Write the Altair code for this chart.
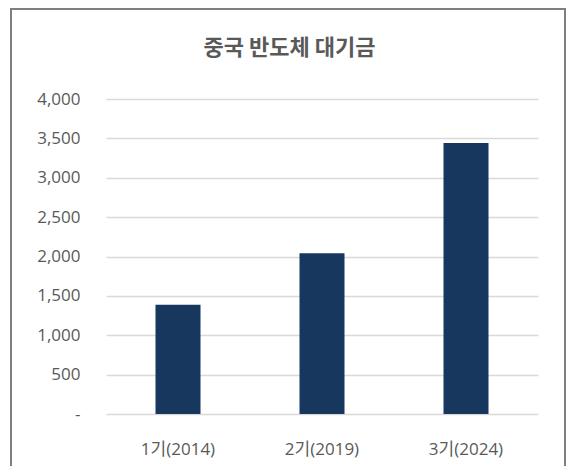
import altair as alt
import pandas as pd

categories = ["1기(2014)", "2기(2019)", "3기(2024)"]
values = [1387, 2042, 3440]
title_text = ["중국 반도체 대기금"]

df = pd.DataFrame({"phase": categories, "amount": values})
frame_df = pd.DataFrame({"k": [0]})
title_df = pd.DataFrame({"t": title_text})

bars = alt.Chart(df).mark_bar(size=45, color="#17375E").encode(
    x=alt.X("phase:N", sort=categories, title=None,
            scale=alt.Scale(paddingInner=0, paddingOuter=0),
            axis=alt.Axis(labelAngle=0, ticks=False, domain=False, grid=False,
                          labelPadding=27,
                          labelFont="Open Sans, Noto Sans CJK KR", labelFontSize=17,
                          labelColor="#595959")),
    y=alt.Y("amount:Q", title=None,
            scale=alt.Scale(domain=[0, 4000], nice=False),
            axis=alt.Axis(values=[0, 500, 1000, 1500, 2000, 2500, 3000, 3500, 4000],
                          labelExpr="datum.value == 0 ? '-' : format(datum.value, ',')",
                          ticks=False, domain=False, labelPadding=26,
                          labelFont="Open Sans", labelFontSize=17, labelColor="#595959",
                          gridColor="#D9D9D9", gridWidth=1.5)),
)

frame = alt.Chart(frame_df).mark_rect(fill=None, stroke="#7F7F7F", strokeWidth=2).encode(
    x=alt.value(-95), x2=alt.value(459), y=alt.value(-90), y2=alt.value(400)
)

title = alt.Chart(title_df).mark_text(
    font="Noto Sans CJK KR", fontSize=22, fontWeight="bold", color="#595959",
    align="center", baseline="middle"
).encode(text="t:N", x=alt.value(183.5), y=alt.value(-51.5))

chart = alt.layer(frame, bars, title).properties(
    width=432, height=315,
    background="white",
    autosize=alt.AutoSizeParams(type="none"),
    padding={"left": 98, "top": 91, "right": 29, "bottom": 52},
).configure_view(strokeWidth=0, stroke="transparent")

chart.save("out.html", embed_options={"renderer": "svg", "actions": False})
